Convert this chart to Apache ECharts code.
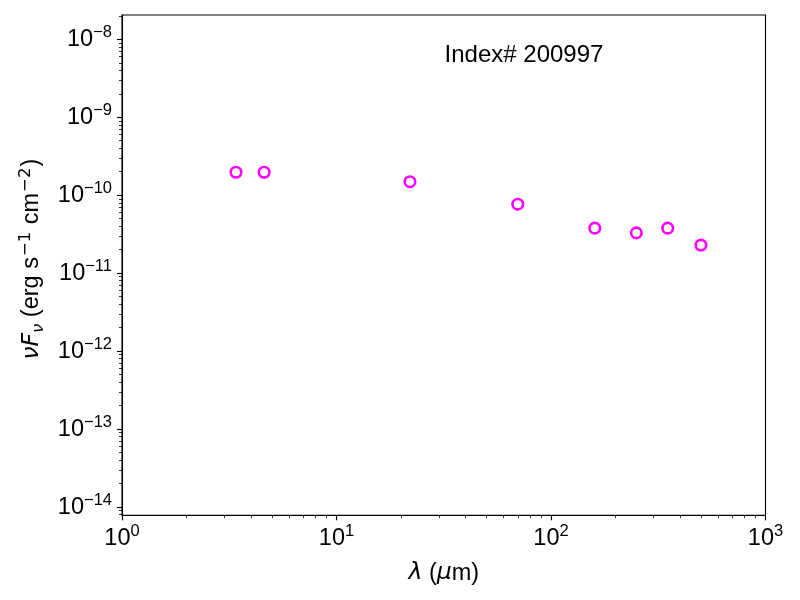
<!DOCTYPE html>
<html>
<head>
<meta charset="utf-8">
<script src="https://cdn.jsdelivr.net/npm/echarts@6/dist/echarts.min.js"></script>
<style>html,body{margin:0;padding:0;background:#fff}#c{width:800px;height:600px}</style>
</head>
<body>
<div id="c"></div>
<script>
// Data
const wavelength = [3.4, 4.6, 22, 70, 160, 250, 350, 500];          // micron
const nuFnu = [1.97e-10, 1.97e-10, 1.49e-10, 7.67e-11, 3.78e-11, 3.29e-11, 3.78e-11, 2.29e-11]; // erg s-1 cm-2
const xTickExps = [0, 1, 2, 3];
const yTickExps = [-14, -13, -12, -11, -10, -9, -8];
const xRange = [1, 1000];
const yRange = [7.83e-15, 2.05e-8];
const labelText = 'Index# 200997';

const lg = Math.log10;
function minorTicks(lo, hi) {
  const out = [];
  for (let n = Math.floor(lo) - 1; n <= Math.ceil(hi); n++) {
    for (let k = 2; k <= 9; k++) {
      const v = n + lg(k);
      if (v > lo && v < hi) out.push(v);
    }
  }
  return out;
}
function fmtExp(v) {
  const e = Math.round(v);
  const s = e < 0 ? '\u2212' + Math.abs(e) : String(e);
  return '{b|10}{s|' + s + '}';
}
const FONT = 'Liberation Sans';
const MATH = 'DejaVu Sans';
const tickRich = {
  b: { fontSize: 23.5, fontFamily: FONT, color: '#000', lineHeight: 30 },
  s: { fontSize: 16.5, fontFamily: FONT, color: '#000', lineHeight: 16, verticalAlign: 'top' }
};
const xMin = lg(xRange[0]), xMax = lg(xRange[1]);
const yMin = lg(yRange[0]), yMax = lg(yRange[1]);

const axisLine = { show: true, lineStyle: { color: '#000', width: 1.1 } };

const chart = echarts.init(document.getElementById('c'), null, { renderer: 'canvas' });
chart.setOption({
  animation: false,
  backgroundColor: '#fff',
  grid: { left: 122, right: 34.5, top: 15, bottom: 84.7, show: true, borderColor: '#000', borderWidth: 1.1, backgroundColor: 'transparent' },
  xAxis: [
    {
      type: 'value', min: xMin, max: xMax, position: 'bottom',
      axisLine: axisLine,
      splitLine: { show: false },
      axisTick: { show: true, length: 5, lineStyle: { color: '#000', width: 1.1 }, customValues: xTickExps },
      axisLabel: { show: true, margin: 8, customValues: xTickExps, formatter: fmtExp, rich: tickRich },
      name: '{i|\u03bb}{n| (}{i|\u03bc}{n|m)}',
      nameLocation: 'middle', nameGap: 44,
      nameTextStyle: {
        rich: {
          i: { fontSize: 23.5, fontFamily: MATH, fontStyle: 'italic', color: '#000', lineHeight: 28 },
          n: { fontSize: 23.5, fontFamily: FONT, color: '#000', lineHeight: 28 }
        }
      }
    },
    {
      type: 'value', min: xMin, max: xMax, position: 'bottom', offset: 0,
      axisLine: { show: false },
      splitLine: { show: false },
      axisTick: { show: true, length: 3, lineStyle: { color: '#000', width: 0.8 }, customValues: minorTicks(xMin, xMax) },
      axisLabel: { show: false }
    }
  ],
  yAxis: [
    {
      type: 'value', min: yMin, max: yMax, position: 'left',
      axisLine: axisLine,
      splitLine: { show: false },
      axisTick: { show: true, length: 5, lineStyle: { color: '#000', width: 1.1 }, customValues: yTickExps },
      axisLabel: { show: true, margin: 10, customValues: yTickExps, formatter: fmtExp, rich: tickRich },
      name: '{i|\u03bdF}{sub|\u03bd}{n| (erg s}{sup|\u22121}{n| cm}{sup|\u22122}{n|)}',
      nameLocation: 'middle', nameGap: 75,
      nameTextStyle: {
        padding: [0, 0, 0, 12],
        rich: {
          i: { fontSize: 23.5, fontFamily: MATH, fontStyle: 'italic', color: '#000', lineHeight: 30 },
          sub: { fontSize: 16.5, fontFamily: MATH, fontStyle: 'italic', color: '#000', lineHeight: 16, verticalAlign: 'bottom' },
          n: { fontSize: 23.5, fontFamily: FONT, color: '#000', lineHeight: 30 },
          sup: { fontSize: 16.5, fontFamily: MATH, color: '#000', lineHeight: 16, verticalAlign: 'top', padding: [0, 1, 0, 1] }
        }
      }
    },
    {
      type: 'value', min: yMin, max: yMax, position: 'left', offset: 0,
      axisLine: { show: false },
      splitLine: { show: false },
      axisTick: { show: true, length: 3, lineStyle: { color: '#000', width: 0.8 }, customValues: minorTicks(yMin, yMax) },
      axisLabel: { show: false }
    }
  ],
  series: [{
    type: 'scatter',
    xAxisIndex: 0, yAxisIndex: 0,
    symbol: 'circle',
    symbolSize: 10.5,
    itemStyle: { color: 'rgba(0,0,0,0)', borderColor: '#ff00ff', borderWidth: 2.6, opacity: 1 },
    emphasis: { disabled: true },
    data: wavelength.map((w, i) => [lg(w), lg(nuFnu[i])])
  }],
  graphic: [{
    type: 'text', x: 524, y: 55,
    style: { text: labelText, fontSize: 24, fontFamily: FONT, fill: '#000', align: 'center', verticalAlign: 'middle' }
  }]
});
</script>
</body>
</html>
